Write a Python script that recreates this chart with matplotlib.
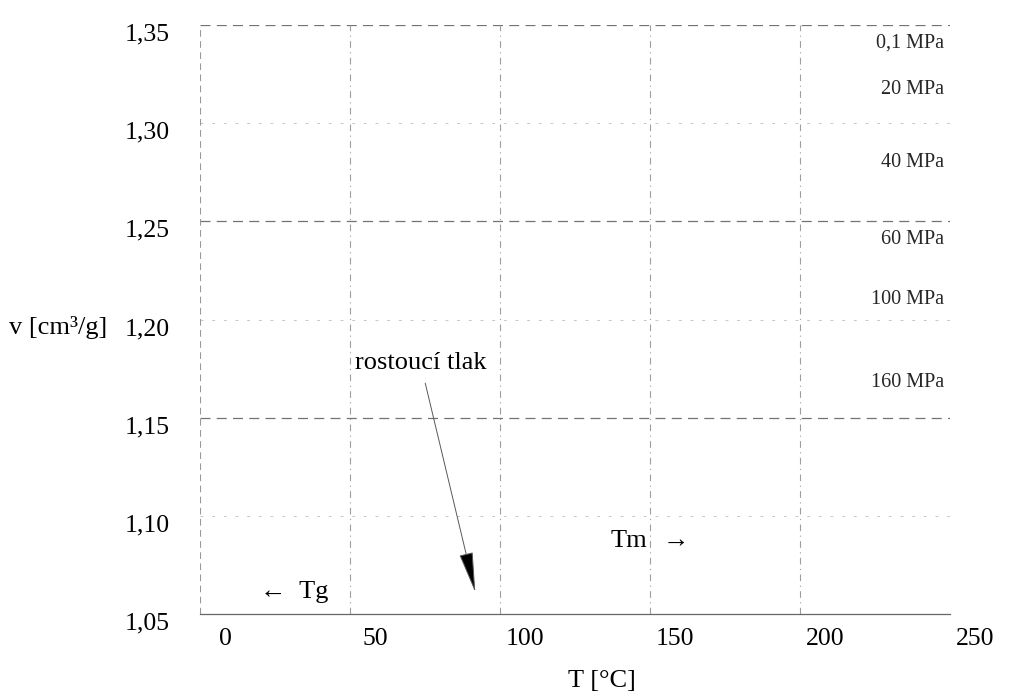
import numpy as np
import matplotlib
matplotlib.use("Agg")
import matplotlib.pyplot as plt
from matplotlib.transforms import ScaledTranslation

# axis ticks (Czech decimal comma)
t_ticks = [0, 50, 100, 150, 200, 250]
v_ticks = [1.05, 1.10, 1.15, 1.20, 1.25, 1.30, 1.35]
v_labels = ["1,05", "1,10", "1,15", "1,20", "1,25", "1,30", "1,35"]

# grid levels
v_major = [1.15, 1.25, 1.35]
v_minor = [1.10, 1.20, 1.30]
t_grid = [50, 100, 150, 200]

# isobar labels and their heights
pressures = ["0,1 MPa", "20 MPa", "40 MPa", "60 MPa", "100 MPa", "160 MPa"]
pressure_v = [1.341, 1.317, 1.280, 1.241, 1.210, 1.168]

SERIF = ["Liberation Serif", "DejaVu Serif"]
plt.rcParams['font.family'] = SERIF

fig = plt.figure(figsize=(10.11, 6.99), dpi=100)
ax = fig.add_axes([0.198, 0.1216, 0.742, 0.8426])
ax.set_xlim(0, 250)
ax.set_ylim(1.05, 1.35)

# grid
for v in v_major:
    ax.axhline(v, color="0.45", lw=0.9, ls=(0, (8, 5)), zorder=1)
for v in v_minor:
    ax.axhline(v, color="0.78", lw=0.7, ls=(0, (3, 9)), zorder=1)
for t in t_grid:
    ax.axvline(t, color="0.62", lw=0.8, ls=(0, (6, 4, 1, 4)), zorder=1)
ax.axvline(0, color="0.6", lw=0.8, ls=(0, (6, 4)), zorder=1)

for s in ["top", "right", "left"]:
    ax.spines[s].set_visible(False)
ax.spines["bottom"].set_color("0.4")
ax.spines["bottom"].set_linewidth(0.9)

ax.set_xticks(t_ticks)
ax.set_xticklabels([str(t) for t in t_ticks])
ax.set_yticks(v_ticks)
ax.set_yticklabels(v_labels)
ax.tick_params(axis="both", length=0, labelsize=18.5)
ax.tick_params(axis="y", pad=22)
ax.tick_params(axis="x", pad=10)

dx = ScaledTranslation(0.25, 0, fig.dpi_scale_trans)
for lab in ax.get_xticklabels():
    lab.set_transform(lab.get_transform() + dx)
dy = ScaledTranslation(0, -0.07, fig.dpi_scale_trans)
for lab in ax.get_yticklabels():
    lab.set_transform(lab.get_transform() + dy)

ax.set_xlabel("T [°C]", fontsize=19)
ax.xaxis.set_label_coords(0.535, -0.095)
ax.set_ylabel("v [cm³/g]", fontsize=19, rotation=0, ha="left", va="center")
ax.yaxis.set_label_coords(-0.255, 0.487)

# isobar labels
for name, v in zip(pressures, pressure_v):
    ax.text(248, v, name, fontsize=14.5, ha="right", va="center", color="0.15")

# pressure direction
ax.text(51.5, 1.178, "rostoucí tlak", fontsize=19, ha="left", va="center")
ax.annotate("", xy=(91.7, 1.061), xytext=(75, 1.1676),
            arrowprops=dict(arrowstyle="-|>,head_length=1.3,head_width=0.22",
                            mutation_scale=20, ec="0.35", fc="k", lw=0.7,
                            shrinkA=0, shrinkB=0))

# transition temperatures
ax.text(149, 1.087, "Tm", fontsize=19, ha="right", va="center", family=SERIF)
ax.text(154, 1.087, "→", fontsize=19, ha="left", va="center", family=SERIF)
ax.text(20, 1.061, "←  Tg", fontsize=19, ha="left", va="center", family=SERIF)

fig.savefig("out.png", dpi=100)
